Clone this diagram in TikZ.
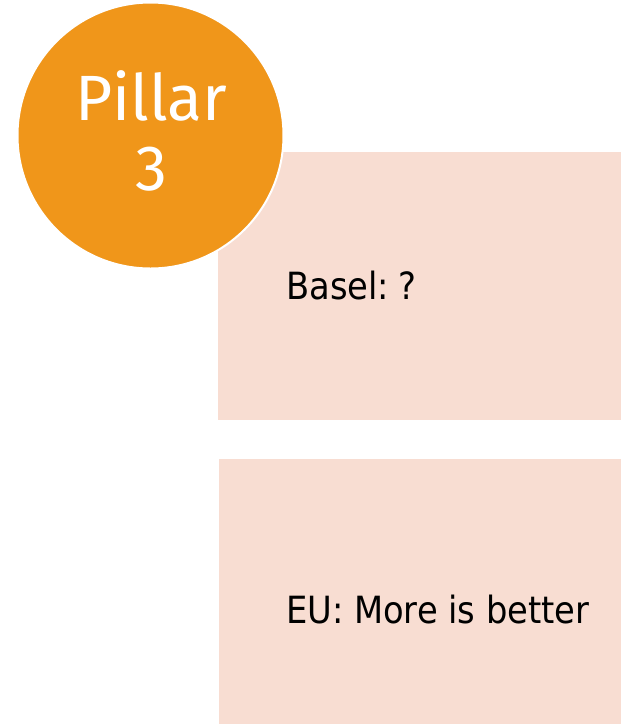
\documentclass[tikz,border=0pt]{standalone}
\usepackage{fontspec}
\setmainfont{DejaVu Sans Condensed}
\newfontfamily\pillarfont{Fira Sans}
\definecolor{boxfill}{RGB}{248,221,210}
\definecolor{orangefill}{RGB}{240,150,26}
\begin{document}
\begin{tikzpicture}[x=1pt,y=-1pt,
  panel/.style={fill=boxfill,draw=none},
  label/.style={anchor=base west,inner sep=0pt,font=\fontsize{37.5}{42}\selectfont,text=black},
  badge/.style={circle,fill=orangefill,draw=white,line width=2pt,minimum size=266pt,inner sep=0pt},
  badgetext/.style={anchor=base,inner sep=0pt,text=white,font=\pillarfont\fontsize{64}{70}\selectfont}]
\useasboundingbox (0,0) rectangle (627,724);
\fill[panel] (218,152) rectangle (621,420);
\fill[panel] (219,459) rectangle (621,724);
\node[badge] (pillar) at (150.5,135.5) {};
\node[badgetext] (pillartext) at (151,120) {Pillar};
\node[badgetext] (three) at (151,190) {3};
\node[label] (basel) at (286,299) {Basel:\hspace{-0.12em} ?};
\node[label] (eu) at (286,623) {EU: More is better};
\end{tikzpicture}
\end{document}
